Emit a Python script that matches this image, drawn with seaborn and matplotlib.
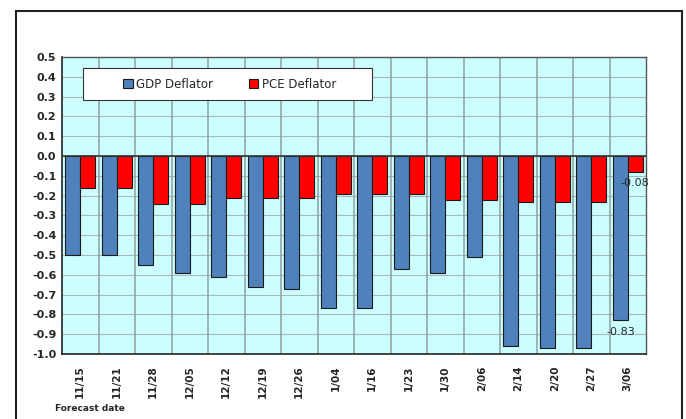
import matplotlib
matplotlib.use("Agg")
import matplotlib.pyplot as plt
from matplotlib.patches import Rectangle
from matplotlib.ticker import FixedLocator
import numpy as np
import pandas as pd
import seaborn as sns

DATES = ["11/15", "11/21", "11/28", "12/05", "12/12", "12/19", "12/26", "1/04",
         "1/16", "1/23", "1/30", "2/06", "2/14", "2/20", "2/27", "3/06"]
GDP = [-0.50, -0.50, -0.55, -0.59, -0.61, -0.66, -0.67, -0.77,
       -0.77, -0.57, -0.59, -0.51, -0.96, -0.97, -0.97, -0.83]
PCE = [-0.16, -0.16, -0.24, -0.24, -0.21, -0.21, -0.21, -0.19,
       -0.19, -0.19, -0.22, -0.22, -0.23, -0.23, -0.23, -0.08]
SERIES = ["GDP Deflator", "PCE Deflator"]
COLORS = ["#4F81BD", "#FF0000"]
Y_TICKS = [-1.0, -0.9, -0.8, -0.7, -0.6, -0.5, -0.4, -0.3, -0.2, -0.1,
           0.0, 0.1, 0.2, 0.3, 0.4, 0.5]

df = pd.DataFrame({
    "date": DATES * 2,
    "value": GDP + PCE,
    "series": [SERIES[0]] * len(DATES) + [SERIES[1]] * len(DATES),
})

sns.set_style("white")
plt.rcParams["font.family"] = ["DejaVu Sans"]

fig = plt.figure(figsize=(6.86, 4.19), dpi=100)
ax = fig.add_axes([62 / 686, 65 / 419, 584 / 686, 297 / 419])
ax.set_facecolor("#CCFFFF")

sns.barplot(data=df, x="date", y="value", hue="series", palette=COLORS,
            saturation=1, width=0.82, gap=0, edgecolor="#1a1a1a", linewidth=0.8,
            ax=ax, zorder=3)

ax.set_ylim(-1.0, 0.5)
ax.set_xlim(-0.5, len(DATES) - 0.5)
ax.set_yticks(Y_TICKS)
ax.set_yticklabels([f"{v:.1f}" for v in Y_TICKS], fontsize=8, fontweight="bold")
ax.xaxis.set_minor_locator(FixedLocator(np.arange(0.5, len(DATES) - 0.5, 1)))
ax.set_xticks(range(len(DATES)))
ax.set_xticklabels(DATES, rotation=90, fontsize=7.5, fontweight="bold")
ax.tick_params(axis="both", which="both", length=0, pad=4)
ax.tick_params(axis="x", pad=8)

ax.grid(axis="y", which="major", color="#999999", linewidth=0.8, alpha=0.7, zorder=0)
ax.grid(axis="x", which="minor", color="#8a9a9a", linewidth=1.3, alpha=0.8, zorder=0)
ax.grid(axis="x", which="major", visible=False)
ax.axhline(0, color="#333333", linewidth=1.2, zorder=4)

for s in ["left", "bottom"]:
    ax.spines[s].set_color("#222222")
    ax.spines[s].set_linewidth(1.2)
for s in ["top", "right"]:
    ax.spines[s].set_color("#555555")
    ax.spines[s].set_linewidth(1.0)

ax.set_xlabel("")
ax.set_ylabel("")

# data labels on the last date
n = len(DATES) - 1
ax.text(n - 0.19, PCE[-1] - 0.058, f"{PCE[-1]:.2f}", fontsize=8, va="center", ha="left", zorder=5)
ax.text(n - 0.19, GDP[-1] - 0.06, f"{GDP[-1]:.2f}", fontsize=8, va="center", ha="center", zorder=5)

# legend: white box with centred entries
box = Rectangle((21 / 584, 1 - 43 / 297), 289 / 584, 32 / 297, transform=ax.transAxes,
                facecolor="white", edgecolor="#333333", linewidth=0.8, zorder=6)
ax.add_patch(box)
leg = ax.legend(loc="center", bbox_to_anchor=((21 + 289 / 2 + 2) / 584, 1 - 27 / 297),
                ncol=2, fontsize=8.5, frameon=False,
                handlelength=0.8, handleheight=0.8, handletextpad=0.3,
                columnspacing=3.0, borderaxespad=0)
leg.set_zorder(7)

fig.text(55 / 686, 1 - 408 / 419, "Forecast date", fontsize=6.5, fontweight="bold",
         va="center", ha="left")

# outer chart frame
frame = Rectangle((16 / 686, -0.05), 666 / 686, 1 - 11 / 419 + 0.05,
                  transform=fig.transFigure, fill=False, edgecolor="#222222",
                  linewidth=1.5, zorder=10)
fig.patches.append(frame)

fig.savefig("out.png", dpi=100)
